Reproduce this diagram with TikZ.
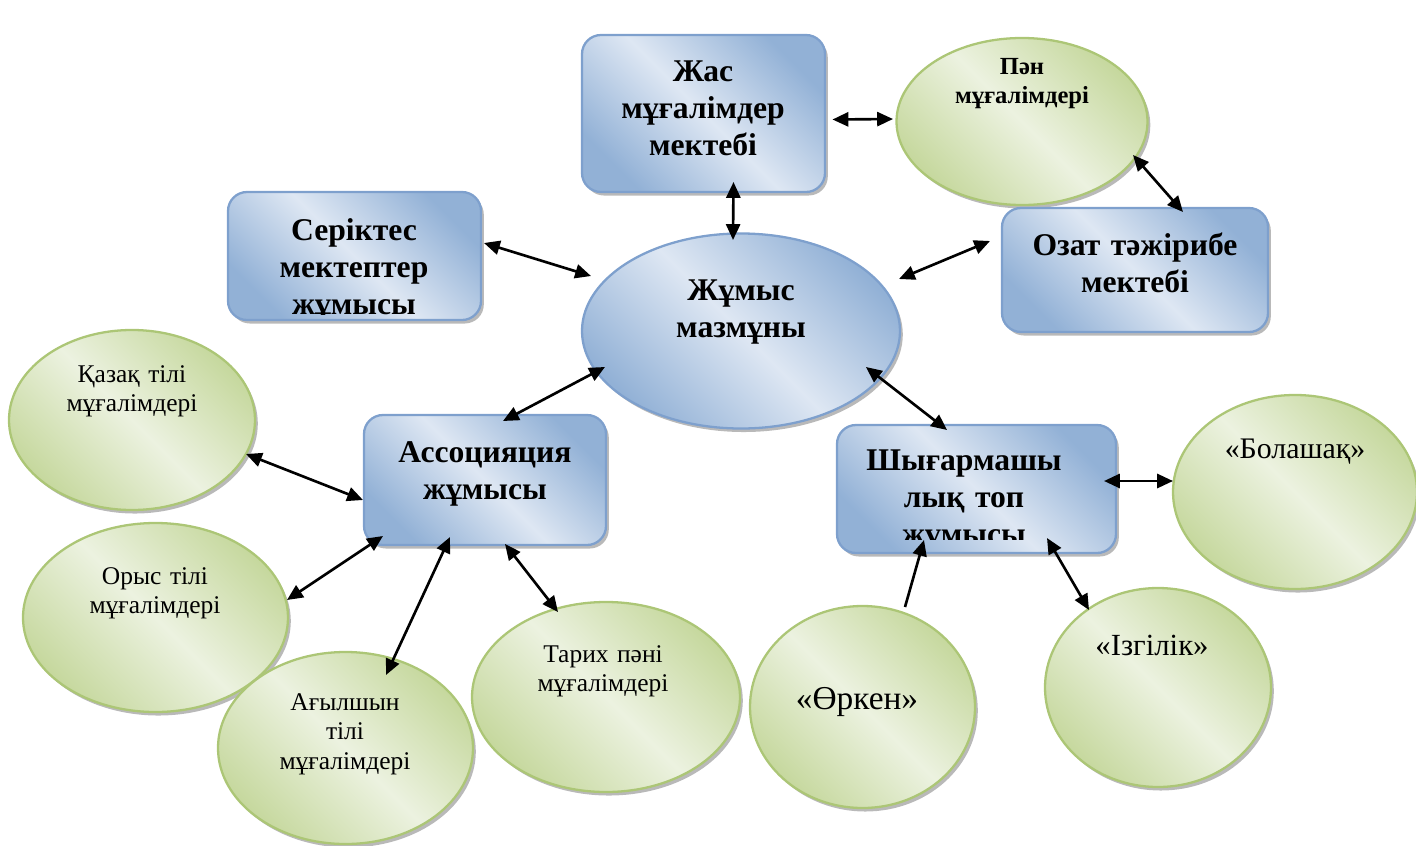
\documentclass[tikz,border=0pt]{standalone}
\usepackage{fontspec}
\setmainfont{Liberation Serif}
\usetikzlibrary{arrows.meta,shapes.geometric,shadows}
\newlength\upx
\setlength\upx{0.02cm}
\definecolor{bdark}{RGB}{146,177,214}
\definecolor{blight}{RGB}{222,231,243}
\definecolor{bline}{RGB}{126,160,205}
\definecolor{gdark}{RGB}{198,216,158}
\definecolor{glight}{RGB}{236,242,224}
\definecolor{gline}{RGB}{172,198,118}
\tikzset{
 shd/.style={drop shadow={shadow xshift=1.6pt, shadow yshift=-2pt, fill=black!50, opacity=0.55}},
 bx/.style={rectangle, rounded corners=0.38cm, draw=bline, line width=1.3pt, shd,
   left color=bdark, right color=bdark, middle color=blight, shading angle=135, inner sep=0pt},
 bel/.style={ellipse, draw=bline, line width=1.3pt, shd,
   left color=bdark, right color=bdark, middle color=blight, shading angle=135, inner sep=0pt},
 gel/.style={ellipse, draw=gline, line width=1.3pt, shd,
   left color=gdark, right color=gdark, middle color=glight, shading angle=135, inner sep=0pt},
 btxt/.style={anchor=base, text width=7cm, align=center, inner sep=0pt,
   font=\fontsize{18}{21.3}\selectfont\bfseries},
 gbtxt/.style={anchor=base, text width=6cm, align=center, inner sep=0pt,
   font=\fontsize{14}{17}\selectfont\bfseries},
 gtxt/.style={anchor=base, text width=6cm, align=center, inner sep=0pt,
   font=\fontsize{14.5}{17}\selectfont},
 qtxt/.style={anchor=base, inner sep=0pt},
 arr/.style={{Triangle[length=9pt,width=8pt]}-{Triangle[length=9pt,width=8pt]}, line width=1.5pt},
 arrone/.style={-{Triangle[length=9pt,width=8pt]}, line width=1.5pt}
}
\begin{document}
\begin{tikzpicture}[x=0.02cm,y=-0.02cm]
\useasboundingbox (0,0) rectangle (1416,845);
% green ellipses
\node[gel, minimum width=246\upx, minimum height=180\upx] (kaz) at (132,420) {};
\node[gel, minimum width=265\upx, minimum height=189\upx] (orys) at (155.5,617.5) {};
\node[gel, minimum width=255\upx, minimum height=192\upx] (agyl) at (345.5,748) {};
\node[gel, minimum width=268\upx, minimum height=190\upx] (tarih) at (606,697) {};
\node[gel, minimum width=225\upx, minimum height=202\upx] (orken) at (862.5,707) {};
\node[gel, minimum width=226\upx, minimum height=199\upx] (izgilik) at (1158,687.5) {};
\node[gel, minimum width=244\upx, minimum height=194\upx] (bolashak) at (1295,492) {};
\node[gel, minimum width=251\upx, minimum height=167\upx] (pan) at (1022,121.5) {};
% blue shapes
\node[bx, minimum width=243\upx, minimum height=157\upx] (jas) at (703.5,113.5) {};
\node[bx, minimum width=253\upx, minimum height=128\upx] (ser) at (354.5,256) {};
\node[bx, minimum width=266\upx, minimum height=124\upx] (ozat) at (1135,270) {};
\node[bx, minimum width=242\upx, minimum height=130\upx] (assoc) at (485,480) {};
\node[bx, minimum width=279\upx, minimum height=128\upx] (shyg) at (976.5,489) {};
\node[bel, minimum width=318\upx, minimum height=195\upx] (jum) at (741,331) {};
% texts
\node[btxt] (jas-t) at (703,81) {Жас\\мұғалімдер\\мектебі};
\begin{scope}
\clip (228,192) rectangle (481,314);
\node[btxt] (ser-t) at (354,240) {Серіктес\\мектептер\\жұмысы};
\end{scope}
\node[btxt] (ozat-t) at (1135,255) {Озат тәжірибе\\мектебі};
\node[btxt] (assoc-t) at (485,462) {Ассоцияция\\жұмысы};
\begin{scope}
\clip (837,425) rectangle (1116,539);
\node[btxt] (shyg-t) at (964,470) {Шығармашы\\лық топ\\жұмысы};
\end{scope}
\node[btxt] (jum-t) at (741,300) {Жұмыс\\мазмұны};
\node[gbtxt] (pan-t) at (1022,74) {Пән\\мұғалімдері};
\node[gtxt] (kaz-t) at (132,382) {Қазақ тілі\\мұғалімдері};
\node[gtxt] (orys-t) at (155,584) {Орыс тілі\\мұғалімдері};
\node[gtxt] (agyl-t) at (345,710) {Ағылшын\\тілі\\мұғалімдері};
\node[gtxt] (tarih-t) at (603,662) {Тарих пәні\\мұғалімдері};
\node[qtxt, font=\fontsize{19}{22}\selectfont] (orken-t) at (857,709) {«Өркен»};
\node[qtxt, font=\fontsize{17}{20}\selectfont] (bolashak-t) at (1295,458) {«Болашақ»};
\node[qtxt, font=\fontsize{17.5}{20}\selectfont] (izgilik-t) at (1152,655) {«Ізгілік»};
% connectors
\draw[arr] ([shift={(129,6)}]jas.center) -- ([shift={(-129,-2.5)}]pan.center);
\draw[arr] ([shift={(30,68.5)}]jas.center) -- ([shift={(-8,-91)}]jum.center);
\draw[arr] ([shift={(129.5,-13)}]ser.center) -- ([shift={(-150,-55)}]jum.center);
\draw[arr] ([shift={(158,-52)}]jum.center) -- ([shift={(-145,-29)}]ozat.center);
\draw[arr] ([shift={(111,33.5)}]pan.center) -- ([shift={(48,-58)}]ozat.center);
\draw[arr] ([shift={(-136,36)}]jum.center) -- ([shift={(18,-59)}]assoc.center);
\draw[arr] ([shift={(125,36)}]jum.center) -- ([shift={(-29.5,-59)}]shyg.center);
\draw[arr] ([shift={(114,34)}]kaz.center) -- ([shift={(-122,20)}]assoc.center);
\draw[arr] ([shift={(131.5,-17.5)}]orys.center) -- ([shift={(-102,56)}]assoc.center);
\draw[arr] ([shift={(40.5,-73)}]agyl.center) -- ([shift={(-35,57)}]assoc.center);
\draw[arr] ([shift={(-48,-85)}]tarih.center) -- ([shift={(20,64)}]assoc.center);
\draw[arrone] ([shift={(42.5,-100)}]orken.center) -- ([shift={(-52.5,51)}]shyg.center);
\draw[arr] ([shift={(127.5,-8)}]shyg.center) -- ([shift={(-122,-11)}]bolashak.center);
\draw[arr] ([shift={(70.5,49)}]shyg.center) -- ([shift={(-69,-77.5)}]izgilik.center);
\end{tikzpicture}
\end{document}
